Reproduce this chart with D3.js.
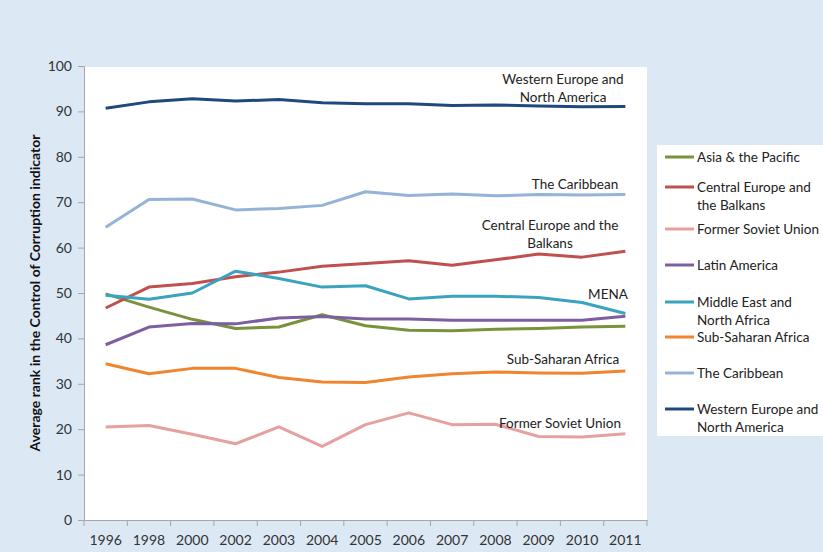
<!DOCTYPE html>
<html><head><meta charset="utf-8">
<script src="https://cdn.jsdelivr.net/npm/d3@7/dist/d3.min.js"></script>
<style>
html,body{margin:0;padding:0;background:#dde8f5;}
svg{display:block;font-family:Lato,"Open Sans",sans-serif;}
</style></head><body>
<svg id="chart" width="823" height="552"></svg>
<script>
const years = ["1996","1998","2000","2002","2003","2004","2005","2006","2007","2008","2009","2010","2011"];
const yTicks = [0,10,20,30,40,50,60,70,80,90,100];
const seriesNames = ["Asia & the Pacific","Central Europe and the Balkans","Former Soviet Union","Latin America","Middle East and North Africa","Sub-Saharan Africa","The Caribbean","Western Europe and North America"];
const asiaPacific   = [49.8,46.9,44.2,42.2,42.5,45.2,42.8,41.8,41.7,42.0,42.2,42.5,42.7];
const centralEurope = [46.7,51.3,52.1,53.6,54.6,55.9,56.5,57.1,56.1,57.3,58.6,57.9,59.2];
const formerSoviet  = [20.5,20.8,18.9,16.8,20.5,16.2,21.0,23.6,21.0,21.1,18.4,18.3,19.0];
const latinAmerica  = [38.6,42.5,43.3,43.2,44.5,44.8,44.3,44.3,44.0,44.0,44.0,44.0,44.9];
const mena          = [49.5,48.6,50.0,54.8,53.2,51.3,51.6,48.7,49.3,49.3,49.0,47.9,45.5];
const subSaharan    = [34.4,32.2,33.4,33.4,31.4,30.4,30.3,31.5,32.2,32.6,32.4,32.3,32.8];
const caribbean     = [64.5,70.6,70.7,68.3,68.6,69.3,72.3,71.5,71.8,71.4,71.7,71.6,71.7];
const westernEurope = [90.7,92.1,92.8,92.3,92.6,91.9,91.7,91.7,91.3,91.4,91.2,91.0,91.1];
const seriesValues = [asiaPacific,centralEurope,formerSoviet,latinAmerica,mena,subSaharan,caribbean,westernEurope];
const colors = ["#77933c","#c0504d","#e6a09e","#7d5fa0","#3aa3c0","#f0852d","#95b3d7","#1f497d"];
const legendLabels = [["Asia & the Pacific"],["Central Europe and","the Balkans"],["Former Soviet Union"],["Latin America"],["Middle East and","North Africa"],["Sub-Saharan Africa"],["The Caribbean"],["Western Europe and","North America"]];
const annotations = [
  {s:7, lines:["Western Europe and","North America"]},
  {s:6, lines:["The Caribbean"]},
  {s:1, lines:["Central Europe and the","Balkans"]},
  {s:4, lines:["MENA"]},
  {s:5, lines:["Sub-Saharan Africa"]},
  {s:2, lines:["Former Soviet Union"]}
];
const annotPos = [[563,84],[575,189],[550,230],[608,299],[563,364],[560,428]];

const svg = d3.select("#chart");
const L=84, R=647, T=66, B=520;
svg.append("rect").attr("x",L).attr("y",67).attr("width",R-L).attr("height",B-67).attr("fill","#fff");

const x = d3.scaleBand().domain(years).range([L,R]);
const y = d3.scaleLinear().domain([0,100]).range([B,T]);

const ya = svg.append("g").attr("transform",`translate(${L},0)`)
  .call(d3.axisLeft(y).tickValues(yTicks).tickSize(6).tickPadding(6));
ya.select(".domain").attr("stroke","#a6a6a6");
ya.selectAll(".tick line").attr("stroke","#a6a6a6");
ya.selectAll(".tick text").attr("font-size",14).attr("fill","#333").attr("font-family","Lato,sans-serif");

const xa = svg.append("g").attr("transform",`translate(0,${B})`)
  .call(d3.axisBottom(x).tickSize(0).tickPadding(15));
xa.select(".domain").attr("stroke","#a6a6a6");
xa.selectAll(".tick text").attr("font-size",14).attr("fill","#333").attr("font-family","Lato,sans-serif");
const bounds = years.map(d=>x(d)).concat([R]);
xa.selectAll(".bt").data(bounds).enter().append("line")
  .attr("x1",d=>d).attr("x2",d=>d).attr("y1",0).attr("y2",6).attr("stroke","#a6a6a6");

svg.append("text").attr("transform","translate(40,293) rotate(-90)")
  .attr("text-anchor","middle").attr("font-size",14).attr("font-weight","bold").attr("fill","#111")
  .text("Average rank in the Control of Corruption indicator");

const line = d3.line().x((d,i)=>x(years[i])+x.bandwidth()/2).y(d=>y(d));
seriesValues.forEach((vals,i)=>{
  svg.append("path").attr("d",line(vals)).attr("fill","none")
    .attr("stroke",colors[i]).attr("stroke-width",3).attr("stroke-linejoin","round");
});

annotations.forEach((a,k)=>{
  const t = svg.append("text").attr("text-anchor","middle").attr("font-size",13.5).attr("fill","#222")
    .attr("x",annotPos[k][0]).attr("y",annotPos[k][1]);
  a.lines.forEach((ln,j)=>t.append("tspan").attr("x",annotPos[k][0]).attr("dy",j?18:0).text(ln));
});

svg.append("rect").attr("x",657).attr("y",145).attr("width",170).attr("height",291).attr("fill","#fff");
const legY = [157,187,229,265,302,337,373,409];
seriesNames.forEach((n,i)=>{
  const g = svg.append("g").attr("transform",`translate(665,${legY[i]})`);
  g.append("line").attr("x1",0).attr("x2",29).attr("y1",0).attr("y2",0).attr("stroke",colors[i]).attr("stroke-width",3);
  const t = g.append("text").attr("x",32).attr("y",5).attr("font-size",13.5).attr("fill","#222");
  legendLabels[i].forEach((ln,j)=>t.append("tspan").attr("x",32).attr("dy",j?18:0).text(ln));
});
</script>
</body></html>
